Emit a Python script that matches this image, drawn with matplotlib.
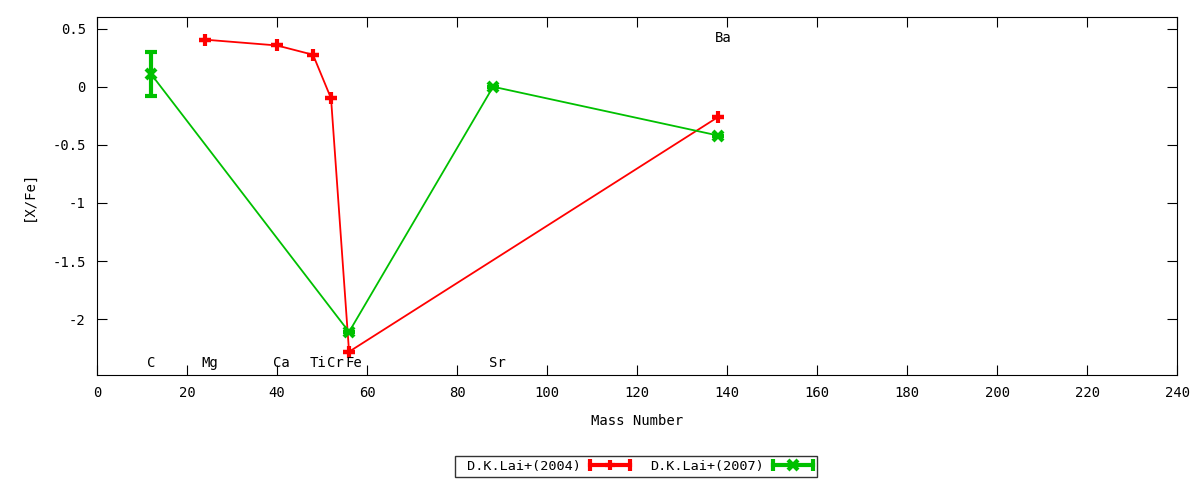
import matplotlib
matplotlib.use("Agg")
import matplotlib.pyplot as plt
from matplotlib.lines import Line2D
from matplotlib.legend_handler import HandlerBase
from matplotlib.ticker import FormatStrFormatter, MultipleLocator

plt.rcParams['font.family'] = ['DejaVu Sans Mono']
plt.rcParams['axes.unicode_minus'] = False

# D.K.Lai+(2004)
mass_2004 = [24, 40, 48, 52, 56, 138]
xfe_2004 = [0.405, 0.355, 0.275, -0.10, -2.28, -0.26]
err_2004 = [0, 0, 0, 0, 0, 0]

# D.K.Lai+(2007)
mass_2007 = [12, 56, 88, 138]
xfe_2007 = [0.11, -2.11, 0.0, -0.42]
err_2007 = [0.19, 0, 0, 0]

# element labels
elements = ['C', 'Mg', 'Ca', 'Ti', 'Cr', 'Fe', 'Sr', 'Ba']
elem_mass = [12, 24, 40, 48, 52, 56, 88, 138]
elem_y = [-2.38, -2.38, -2.38, -2.38, -2.38, -2.38, -2.38, 0.42]


class ErrSample(HandlerBase):
    # gnuplot style key sample: thick bar with caps, point in the middle
    def create_artists(self, legend, orig, xd, yd, w, h, fontsize, trans):
        c = orig.get_color()
        m = orig.get_marker()
        y = yd + h / 2
        bar = Line2D([xd, xd + w], [y, y], color=c, lw=3, transform=trans)
        caps = Line2D([xd, xd + w], [y, y], color=c, lw=0, marker='|',
                      ms=9, mew=3, transform=trans)
        pt = Line2D([xd + w / 2], [y], color=c, lw=0, marker=m, ms=7,
                    mew=3, transform=trans)
        return [bar, caps, pt]


fig = plt.figure(figsize=(12, 4.8), dpi=100)
ax = fig.add_axes([0.0808, 0.2188, 0.9003, 0.7458])

ax.errorbar(mass_2004, xfe_2004, yerr=err_2004, color='#ff0000', lw=1.3,
            marker='+', ms=9, mew=3, elinewidth=3, capsize=4, capthick=3)
ax.errorbar(mass_2007, xfe_2007, yerr=err_2007, color='#00c000', lw=1.3,
            marker='x', ms=7, mew=3, elinewidth=3, capsize=4, capthick=3)

for name, m, y in zip(elements, elem_mass, elem_y):
    ax.text(m - 0.8, y, name, ha='left', va='center', fontsize=10)

ax.set_xlim(0, 240)
ax.set_ylim(-2.48, 0.6)
ax.xaxis.set_major_locator(MultipleLocator(20))
ax.yaxis.set_major_locator(MultipleLocator(0.5))
ax.yaxis.set_major_formatter(FormatStrFormatter('%g'))
ax.tick_params(direction='in', length=7, top=True, right=True, labelsize=10, pad=8)
ax.set_xlabel('Mass Number', fontsize=10, labelpad=10)
ax.set_ylabel('[X/Fe]', fontsize=10, labelpad=12)

h1 = Line2D([], [], color='#ff0000', marker='+')
h2 = Line2D([], [], color='#00c000', marker='x')
leg = ax.legend([h1, h2], [' D.K.Lai+(2004)', 'D.K.Lai+(2007)'],
                handler_map={Line2D: ErrSample()},
                loc='center', bbox_to_anchor=(0.499, -0.255), ncol=2,
                markerfirst=False, frameon=True, fancybox=False,
                edgecolor='black', fontsize=9.7, handlelength=3.0,
                handletextpad=0.65, borderpad=0.3, columnspacing=1.5,
                borderaxespad=0)
leg.get_frame().set_linewidth(1)

fig.savefig('out.png', dpi=100)
